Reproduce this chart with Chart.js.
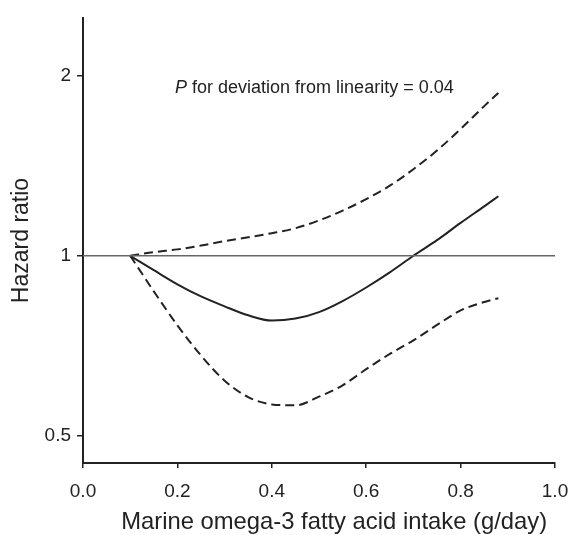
<!DOCTYPE html>
<html>
<head>
<meta charset="utf-8">
<script src="https://cdn.jsdelivr.net/npm/chart.js@4.4.1/dist/chart.umd.min.js"></script>
<style>
html,body{margin:0;padding:0;background:#fff;}
#wrap{width:569px;height:535px;position:relative;}
</style>
</head>
<body>
<div id="wrap"><canvas id="c"></canvas></div>
<script>
const intake = [0.10,0.15,0.20,0.25,0.30,0.35,0.40,0.45,0.50,0.55,0.60,0.65,0.70,0.75,0.80,0.85,0.88];
const hrEstimate = [1.0,0.946,0.896,0.855,0.823,0.795,0.779,0.785,0.805,0.84,0.885,0.938,1.0,1.062,1.135,1.21,1.258];
const hrUpper = [1.0,1.014,1.025,1.04,1.058,1.074,1.091,1.112,1.146,1.19,1.244,1.31,1.396,1.50,1.63,1.78,1.873];
const hrLower = [1.0,0.872,0.765,0.681,0.618,0.58,0.564,0.562,0.581,0.607,0.646,0.685,0.722,0.766,0.81,0.837,0.849];
const refX = [0.0,1.0];
const refY = [1,1];
const xTicks = [0,0.2,0.4,0.6,0.8,1.0];
const yTicks = [0.5,1,2];
const annotation = {italic:"P", rest:" for deviation from linearity = 0.04"};
const xTitle = 'Marine omega-3 fatty acid intake (g/day)';
const yTitle = 'Hazard ratio';

const toPts = (xs, ys) => xs.map((x,i)=>({x:x,y:ys[i]}));
const ink = '#222';
const FONT = '"Liberation Sans", Arial, sans-serif';

const textPlugin = {
  id:'pText',
  afterDatasetsDraw(chart){
    const ctx = chart.ctx;
    const xs = chart.scales.x, ys = chart.scales.y;
    ctx.save();
    ctx.fillStyle = ink;
    ctx.textBaseline = 'middle';
    ctx.textAlign = 'left';
    let x0 = xs.getPixelForValue(0.195);
    const y0 = ys.getPixelForValue(1.91);
    ctx.font = 'italic 18px ' + FONT;
    ctx.fillText(annotation.italic, x0, y0);
    x0 += ctx.measureText(annotation.italic).width;
    ctx.font = '18px ' + FONT;
    ctx.fillText(annotation.rest, x0, y0);
    // x-axis title (offset right of axis centre, as in the original figure)
    ctx.textAlign = 'center';
    ctx.font = '23.8px ' + FONT;
    ctx.fillText(xTitle, xs.getPixelForValue(0.532), chart.chartArea.bottom + 59);
    ctx.restore();
  }
};

const lineBase = {borderColor:ink, borderWidth:2, pointRadius:0, fill:false, cubicInterpolationMode:'monotone'};

new Chart(document.getElementById('c'), {
  type:'line',
  data:{
    datasets:[
      {label:'ref', data:toPts(refX,refY), borderColor:'#666', borderWidth:1.5, pointRadius:0, fill:false},
      Object.assign({label:'Upper', data:toPts(intake,hrUpper), borderDash:[9,5]}, lineBase),
      Object.assign({label:'HR', data:toPts(intake,hrEstimate)}, lineBase),
      Object.assign({label:'Lower', data:toPts(intake,hrLower), borderDash:[9,5]}, lineBase)
    ]
  },
  options:{
    responsive:true,
    maintainAspectRatio:false,
    animation:false,
    layout:{padding:{top:18,right:14,left:0,bottom:0}},
    plugins:{legend:{display:false}, tooltip:{enabled:false}},
    scales:{
      x:{
        type:'linear', min:0, max:1,
        afterBuildTicks(s){ s.ticks = xTicks.map(v=>({value:v})); },
        afterFit(s){ s.height = 72; s.paddingLeft = 0; s.paddingRight = 0; },
        grid:{drawOnChartArea:false, drawTicks:true, tickLength:5, color:ink, lineWidth:1.5},
        border:{display:true, color:ink, width:2},
        ticks:{color:ink, font:{family:FONT, size:19}, padding:12, maxRotation:0,
          callback:(v)=>Number(v).toFixed(1)},
        title:{display:false}
      },
      y:{
        type:'logarithmic', min:0.45, max:2.5,
        afterBuildTicks(s){ s.ticks = yTicks.map(v=>({value:v})); },
        afterFit(s){ s.width = 83; s.paddingTop = 0; s.paddingBottom = 0; },
        grid:{drawOnChartArea:false, drawTicks:true, tickLength:6, color:ink, lineWidth:1.5},
        border:{display:true, color:ink, width:2},
        ticks:{color:ink, font:{family:FONT, size:19}, padding:6,
          callback:(v)=>String(v)},
        title:{display:true, text:yTitle, color:ink,
          font:{family:FONT, size:23}, padding:{top:8,bottom:0}}
      }
    }
  },
  plugins:[textPlugin]
});
</script>
</body>
</html>
